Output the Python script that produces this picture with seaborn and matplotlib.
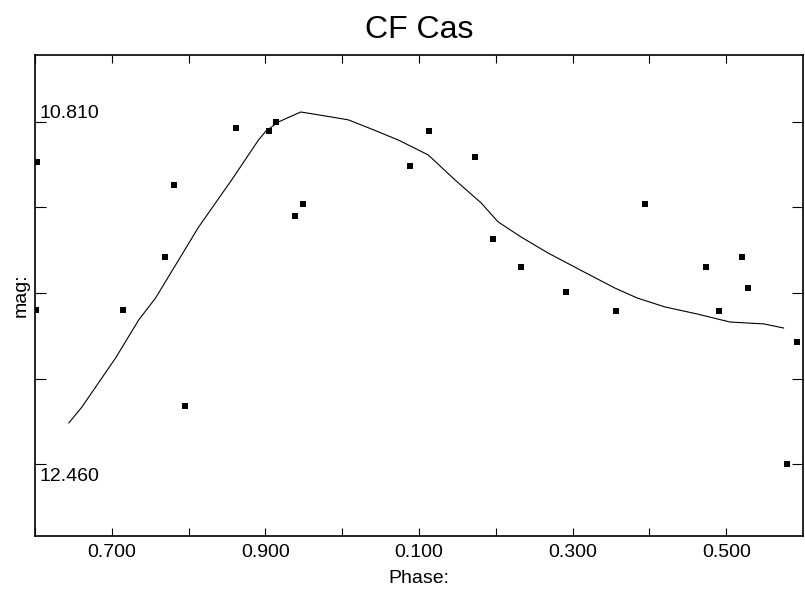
import matplotlib
matplotlib.use("Agg")
import matplotlib.pyplot as plt
import matplotlib.transforms as mtransforms
import seaborn as sns
import pandas as pd

# Observed points (phase, magnitude)
obs_phase = [0.603, 0.781, 0.862, 0.905, 0.914, 0.949, 0.939, 0.769, 0.601, 0.714,
             0.795, 1.113, 1.088, 1.173, 1.394, 1.196, 1.233, 1.291, 1.474, 1.521,
             1.529, 1.357, 1.490, 1.592, 1.579]
obs_mag = [11.003, 11.114, 10.839, 10.853, 10.810, 11.206, 11.263, 11.461, 11.717, 11.717,
           12.180, 10.853, 11.022, 10.979, 11.206, 11.374, 11.509, 11.630, 11.509, 11.461,
           11.611, 11.722, 11.722, 11.871, 12.460]

# Fitted light curve
fit_phase = [0.644, 0.661, 0.705, 0.735, 0.757, 0.813, 0.856, 0.891, 0.901, 0.917,
             0.946, 0.986, 1.008, 1.038, 1.073, 1.112, 1.147, 1.181, 1.203, 1.233,
             1.268, 1.310, 1.355, 1.384, 1.420, 1.462, 1.505, 1.549, 1.575]
fit_mag = [12.262, 12.185, 11.948, 11.765, 11.659, 11.317, 11.090, 10.897, 10.853, 10.810,
           10.762, 10.786, 10.800, 10.844, 10.897, 10.969, 11.090, 11.201, 11.292, 11.365,
           11.442, 11.524, 11.611, 11.659, 11.702, 11.736, 11.775, 11.784, 11.804]

x_ticks = [0.6, 0.7, 0.8, 0.9, 1.0, 1.1, 1.2, 1.3, 1.4, 1.5]
x_labels = ["", "0.700", "", "0.900", "", "0.100", "", "0.300", "", "0.500"]
y_ticks = [10.810, 11.2225, 11.635, 12.0475, 12.460]
y_labels = ["10.810", "", "", "", "12.460"]

sns.set_theme(style="white")
plt.rcParams['font.family'] = ['Liberation Sans', 'DejaVu Sans']
plt.rcParams['text.color'] = 'black'
plt.rcParams['axes.labelcolor'] = 'black'
plt.rcParams['xtick.color'] = 'black'
plt.rcParams['ytick.color'] = 'black'

fig = plt.figure(figsize=(8.05, 5.93), dpi=100)
ax = fig.add_axes([0.0435, 0.0961, 0.954, 0.8112])

df_obs = pd.DataFrame({"phase": obs_phase, "mag": obs_mag})
df_fit = pd.DataFrame({"phase": fit_phase, "mag": fit_mag})

sns.lineplot(data=df_fit, x="phase", y="mag", ax=ax, color="black", linewidth=0.8,
             sort=False, estimator=None)
sns.scatterplot(data=df_obs, x="phase", y="mag", ax=ax, color="black", marker="s",
                s=14, linewidth=0, zorder=3)

ax.set_xlim(0.6, 1.6)
ax.set_ylim(12.807, 10.487)

ax.set_xticks(x_ticks)
ax.set_xticklabels(x_labels, fontsize=14)
ax.set_yticks(y_ticks)
ax.set_yticklabels(y_labels, fontsize=14)

ax.tick_params(axis="x", direction="in", length=6, width=0.8, top=True, bottom=True,
               pad=6, colors="black")
ax.tick_params(axis="y", direction="in", length=8, width=0.8, left=True, right=True,
               pad=-3, colors="black")
for lbl in ax.get_yticklabels():
    lbl.set_horizontalalignment("left")
ylabels = ax.get_yticklabels()
ylabels[0].set_transform(ylabels[0].get_transform() +
                         mtransforms.ScaledTranslation(0, 10/100, fig.dpi_scale_trans))
ylabels[-1].set_transform(ylabels[-1].get_transform() +
                          mtransforms.ScaledTranslation(0, -10/100, fig.dpi_scale_trans))

for s in ax.spines.values():
    s.set_color("black")
    s.set_linewidth(1.2)
    s.set_visible(True)

ax.set_xlabel("Phase:", fontsize=14, labelpad=6, color="black")
ax.set_ylabel("mag:", fontsize=14, labelpad=4, color="black")
ax.set_title("CF Cas", fontsize=23, pad=12, color="black")

fig.savefig("out.png", dpi=100)
